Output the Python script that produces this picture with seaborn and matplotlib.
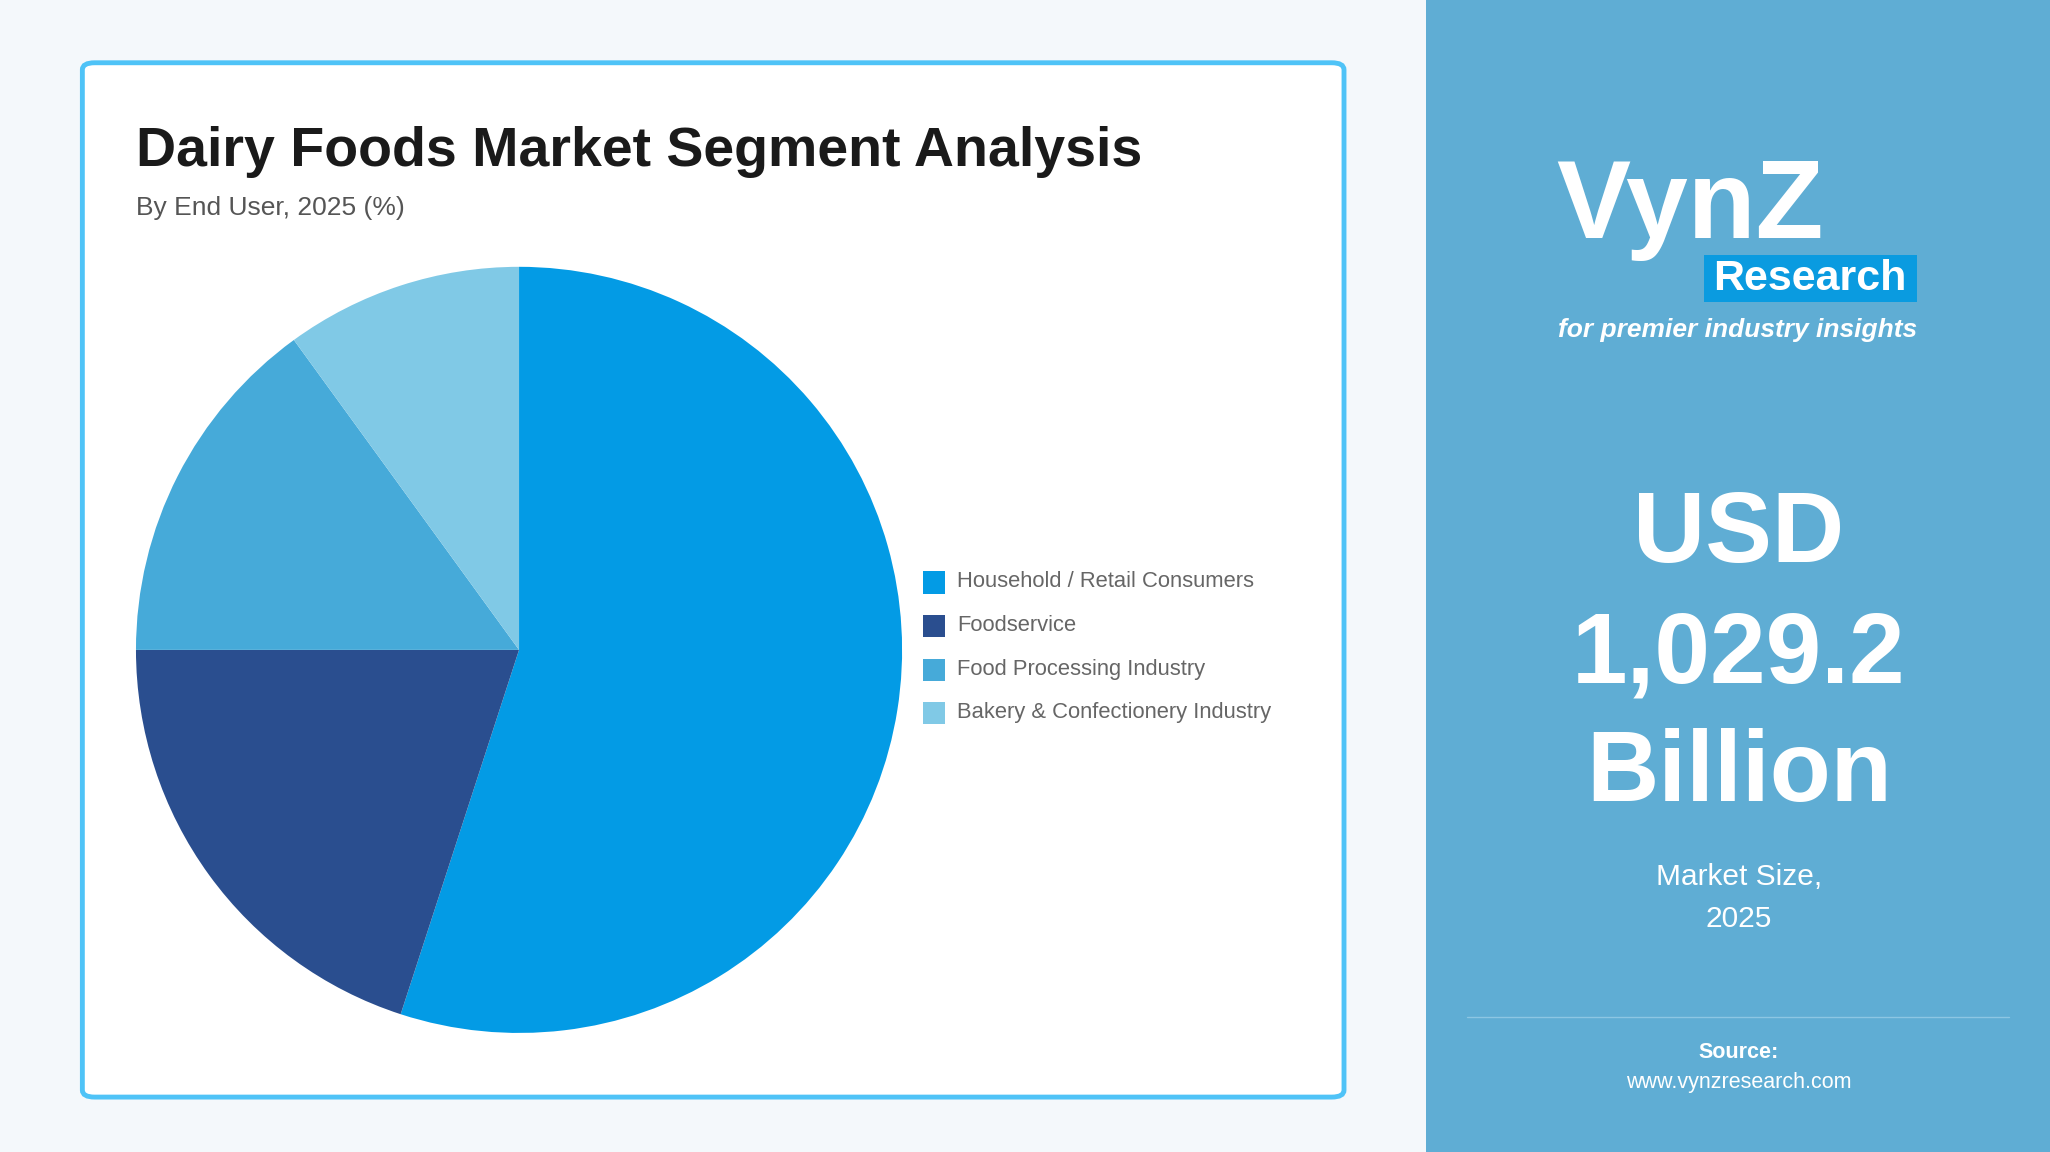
import matplotlib
matplotlib.use("Agg")
import matplotlib.pyplot as plt
import seaborn as sns
from matplotlib.patches import FancyBboxPatch, Rectangle

sns.set_theme(style="white")
plt.rcParams['font.family'] = ['Liberation Sans', 'DejaVu Sans']

segments = ["Household / Retail Consumers", "Foodservice", "Food Processing Industry", "Bakery & Confectionery Industry"]
shares = [55, 20, 15, 10]
colors = ["#039be5", "#2a4e8f", "#46aad9", "#80c9e6"]

W, H = 1568, 881
fig = plt.figure(figsize=(20.5, 11.52), dpi=100)
fig.patch.set_facecolor("#f4f8fb")
def fx(x): return x / W
def fy(y): return 1 - y / H

fig.patches.append(Rectangle((fx(1091), 0), 1 - fx(1091), 1, transform=fig.transFigure, facecolor="#5fadd4", edgecolor="none", zorder=0))
fig.patches.append(FancyBboxPatch((fx(63), fy(839)), fx(1028) - fx(63), fy(48) - fy(839),
                                  boxstyle="round,pad=0,rounding_size=0.006", transform=fig.transFigure,
                                  facecolor="white", edgecolor="#4fc3f7", linewidth=3.5, zorder=0))

fig.text(fx(104), fy(116), "Dairy Foods Market Segment Analysis", fontsize=40, fontweight="bold", color="#1a1a1a", va="center")
fig.text(fx(104), fy(159), "By End User, 2025 (%)", fontsize=19, color="#555555", va="center")

cx, cy, r = 397, 497, 293
ax = fig.add_axes([fx(cx - r), fy(cy + r), fx(2 * r), fy(cy - r) - fy(cy + r)], zorder=3)
ax.pie(shares, colors=colors, startangle=90, counterclock=False, wedgeprops=dict(linewidth=0))
ax.set_xlim(-1, 1)
ax.set_ylim(-1, 1)
ax.set_aspect("equal")
ax.patch.set_alpha(0)

for i, (s, c) in enumerate(zip(segments, colors)):
    y = [445, 478, 512, 545][i]
    fig.patches.append(Rectangle((fx(706), fy(y + 9)), fx(17), fy(y - 8) - fy(y + 9), transform=fig.transFigure, facecolor=c, edgecolor="none", zorder=2))
    fig.text(fx(732), fy(y), s, fontsize=15.8, color="#666666", va="center")

fig.text(fx(1190), fy(160), "VynZ", fontsize=80, fontweight="bold", color="white", va="center")
fig.patches.append(Rectangle((fx(1303), fy(231)), fx(1466) - fx(1303), fy(195) - fy(231), transform=fig.transFigure, facecolor="#0a9be0", edgecolor="none", zorder=2))
fig.text(fx(1384), fy(213), "Research", fontsize=31, fontweight="bold", color="white", va="center", ha="center")
fig.text(fx(1329), fy(252), "for premier industry insights", fontsize=19, fontstyle="italic", fontweight="bold", color="white", va="center", ha="center")

for t, y in [("USD", 410), ("1,029.2", 502), ("Billion", 593)]:
    fig.text(fx(1330), fy(y), t, fontsize=72, fontweight="bold", color="white", ha="center", va="center")
fig.text(fx(1330), fy(671), "Market Size,", fontsize=21.5, color="white", ha="center", va="center")
fig.text(fx(1330), fy(703), "2025", fontsize=21.5, color="white", ha="center", va="center")
fig.lines.append(plt.Line2D([fx(1122), fx(1537)], [fy(778), fy(778)], transform=fig.transFigure, color="#8cc6e3", linewidth=1))
fig.text(fx(1330), fy(805), "Source:", fontsize=15.5, fontweight="bold", color="white", ha="center", va="center")
fig.text(fx(1330), fy(828), "www.vynzresearch.com", fontsize=15.5, color="white", ha="center", va="center")

fig.savefig("out.png", dpi=100, facecolor=fig.get_facecolor())
